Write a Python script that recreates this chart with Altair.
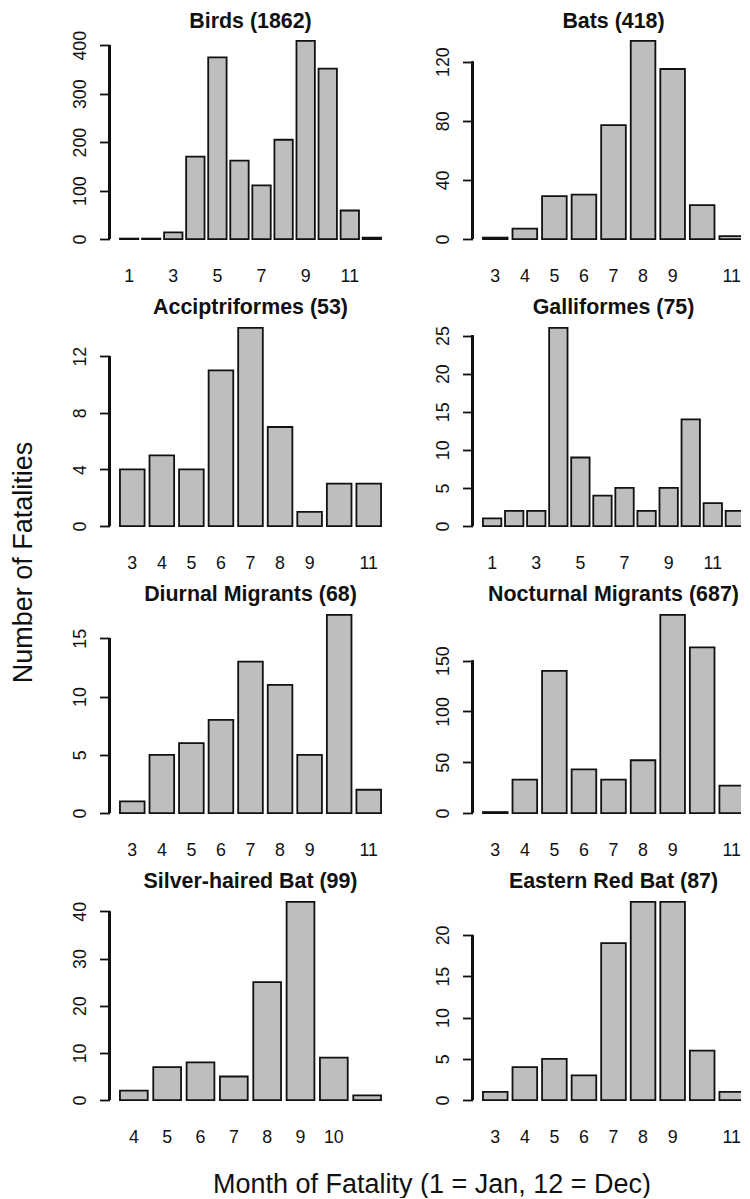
import altair as alt
import pandas as pd

# ---------------- data ----------------
titles = ["Birds (1862)", "Bats (418)", "Acciptriformes (53)", "Galliformes (75)",
          "Diurnal Migrants (68)", "Nocturnal Migrants (687)",
          "Silver-haired Bat (99)", "Eastern Red Bat (87)"]

birds_months = [1, 2, 3, 4, 5, 6, 7, 8, 9, 10, 11, 12]
birds_counts = [1, 1, 14, 170, 375, 162, 111, 205, 409, 352, 59, 3]

bats_months = [3, 4, 5, 6, 7, 8, 9, 10, 11]
bats_counts = [1, 7, 29, 30, 77, 134, 115, 23, 2]

accip_months = [3, 4, 5, 6, 7, 8, 9, 10, 11]
accip_counts = [4, 5, 4, 11, 14, 7, 1, 3, 3]

galli_months = [1, 2, 3, 4, 5, 6, 7, 8, 9, 10, 11, 12]
galli_counts = [1, 2, 2, 26, 9, 4, 5, 2, 5, 14, 3, 2]

diurnal_months = [3, 4, 5, 6, 7, 8, 9, 10, 11]
diurnal_counts = [1, 5, 6, 8, 13, 11, 5, 17, 2]

noct_months = [3, 4, 5, 6, 7, 8, 9, 10, 11]
noct_counts = [1, 33, 140, 43, 33, 52, 195, 163, 27]

silver_months = [4, 5, 6, 7, 8, 9, 10, 11]
silver_counts = [2, 7, 8, 5, 25, 42, 9, 1]

red_months = [3, 4, 5, 6, 7, 8, 9, 10, 11]
red_counts = [1, 4, 5, 3, 19, 24, 24, 6, 1]

# y-axis ticks and which of them carry a label
y_ticks = [
    [0, 100, 200, 300, 400],
    [0, 20, 40, 60, 80, 100, 120],
    [0, 2, 4, 6, 8, 10, 12],
    [0, 5, 10, 15, 20, 25],
    [0, 5, 10, 15],
    [0, 50, 100, 150],
    [0, 10, 20, 30, 40],
    [0, 5, 10, 15, 20],
]
y_labels = [
    [0, 100, 200, 300, 400],
    [0, 40, 80, 120],
    [0, 2, 4, 6, 8, 12],
    [0, 5, 10, 15, 20, 25],
    [0, 5, 10, 15],
    [0, 50, 100, 150],
    [0, 10, 20, 30, 40],
    [0, 5, 10, 15, 20],
]
# month labels printed under the bars
x_labels = [
    [1, 3, 5, 7, 9, 11],
    [3, 4, 5, 6, 7, 8, 9, 11],
    [3, 4, 5, 6, 7, 8, 9, 11],
    [1, 3, 5, 7, 9, 11],
    [3, 4, 5, 6, 7, 8, 9, 11],
    [3, 4, 5, 6, 7, 8, 9, 11],
    [4, 5, 6, 7, 8, 9, 10],
    [3, 4, 5, 6, 7, 8, 9, 11],
]

y_title = "Number of Fatalities"
x_title = "Month of Fatality (1 = Jan, 12 = Dec)"

series = [
    (birds_months, birds_counts), (bats_months, bats_counts),
    (accip_months, accip_counts), (galli_months, galli_counts),
    (diurnal_months, diurnal_counts), (noct_months, noct_counts),
    (silver_months, silver_counts), (red_months, red_counts),
]

# ---------------- style ----------------
FONT = "Liberation Sans"
INK = "#111111"
W, H = 282, 214
TICK_FS = 17.8
ROW_GAP, COL_GAP = 73, 81


def panel(i):
    months, counts = series[i]
    df = pd.DataFrame({"month": months, "count": counts})
    n = len(months)
    top = max(counts)

    xscale = alt.Scale(paddingInner=1 / 6, paddingOuter=0.04 * (n - 1 / 6))
    yscale = alt.Scale(domain=[-0.04 * top, 1.04 * top], nice=False, zero=False)

    shown = ",".join(str(v) for v in y_labels[i])
    yaxis_kw = dict(
        values=y_ticks[i], labelExpr=f"indexof([{shown}], datum.value) >= 0 ? datum.label : ''",
        domain=False, grid=False, tickSize=10, tickWidth=1.8, tickColor=INK,
        labelAngle=270, labelAlign="center", labelBaseline="alphabetic", labelPadding=14,
        labelFontSize=TICK_FS, labelFont=FONT, labelColor=INK,
        labelOverlap=False, labelFlush=False, labelBound=False,
    )
    if i == 2:
        yaxis_kw.update(title=y_title, titleFont=FONT, titleFontSize=27, titleFontWeight="normal",
                        titleColor=INK, titleAngle=270, titleAlign="center",
                        titleBaseline="alphabetic", titleX=-78, titleY=242)
    else:
        yaxis_kw.update(title="")

    xaxis_kw = dict(
        values=x_labels[i], domain=False, ticks=False, tickSize=0, grid=False,
        labelAngle=0, labelPadding=20, labelFontSize=TICK_FS, labelFont=FONT,
        labelColor=INK, labelOverlap=False, labelFlush=False, labelBound=False,
    )
    if i == 6:
        xaxis_kw.update(title=x_title, titleFont=FONT, titleFontSize=27, titleFontWeight="normal",
                        titleColor=INK, titleAlign="center", titleBaseline="alphabetic",
                        titleX=322, titleY=84.5)
    else:
        xaxis_kw.update(title="")

    base = alt.Chart(df)
    bars = base.mark_bar(fill="#bebebe", stroke=INK, strokeWidth=1.8).encode(
        x=alt.X("month:O", scale=xscale, axis=alt.Axis(**xaxis_kw), sort=months),
        y=alt.Y("count:Q", scale=yscale, axis=alt.Axis(**yaxis_kw)),
    )
    axis_line = base.mark_rule(color=INK, strokeWidth=1.8).encode(
        x=alt.value(0),
        y=alt.datum(y_ticks[i][0]),
        y2=alt.datum(y_ticks[i][-1]),
    )
    gap = 5 if i < 2 else 6.5
    title = alt.Chart(pd.DataFrame({"t": [titles[i]]})).mark_text(
        font=FONT, fontSize=21.4, fontWeight="bold", color=INK,
        align="center", baseline="alphabetic",
    ).encode(text="t:N", x=alt.value(W / 2), y=alt.value(-gap))
    layers = [bars, axis_line, title]

    # invisible layout anchors that fix the outer extent of the figure
    if i == 0:
        layers.append(base.mark_rule(opacity=0, strokeWidth=1).encode(
            x=alt.value(-110), x2=alt.value(-100), y=alt.value(-30), y2=alt.value(-20)))
    if i == 1:
        layers.append(base.mark_rule(opacity=0, strokeWidth=1).encode(
            x=alt.value(W), x2=alt.value(W), y=alt.value(0), y2=alt.value(10)))
    return alt.layer(*layers).properties(width=W, height=H)


panels = [panel(i) for i in range(8)]

chart = alt.concat(
    *panels, columns=2, spacing={"row": ROW_GAP, "column": COL_GAP}, bounds="flush"
).properties(
    padding={"left": -8.5, "top": -5, "right": -13.5, "bottom": 0},
    background="white",
).configure_view(strokeWidth=0)

chart.save("out.html", embed_options={"renderer": "svg", "actions": False})
